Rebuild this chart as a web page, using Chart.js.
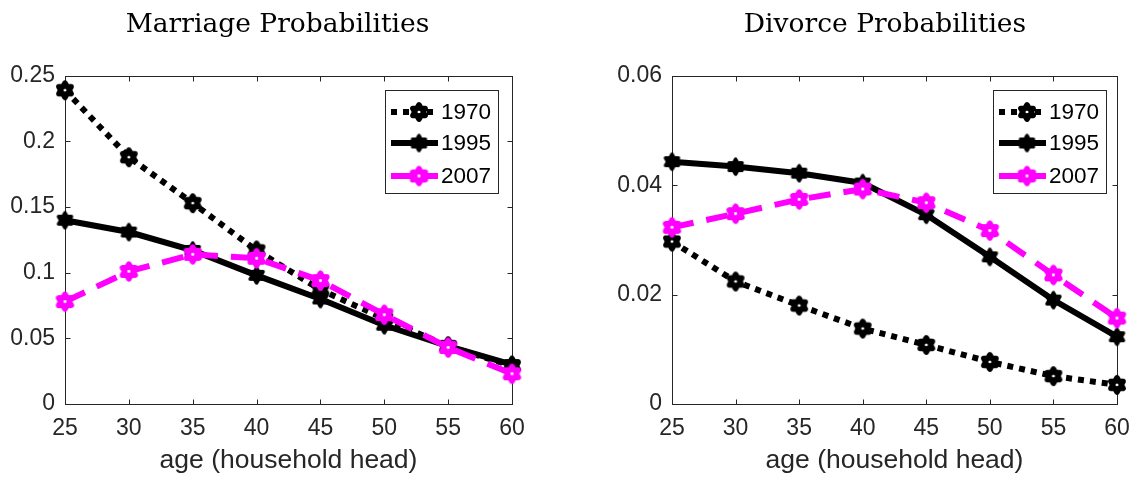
<!DOCTYPE html>
<html><head><meta charset="utf-8">
<script src="https://cdn.jsdelivr.net/npm/chart.js@4.4.0/dist/chart.umd.min.js"></script>
<style>
html,body{margin:0;padding:0;background:#fff;overflow:hidden}
#wrap{position:relative;width:1133px;height:477px;background:#fff;overflow:hidden}
canvas{position:absolute;top:0}
</style></head><body>
<div id="wrap">
<canvas id="c1" width="566" height="477" style="left:0px"></canvas>
<canvas id="c2" width="700" height="477" style="left:566px"></canvas>
</div>
<script>
// ---- data ----
const ages = [25, 30, 35, 40, 45, 50, 55, 60];
const ageTicks = [25, 30, 35, 40, 45, 50, 55, 60];
const seriesLabels = ['1970', '1995', '2007'];
const marriage1970 = [0.239, 0.188, 0.153, 0.117, 0.087, 0.065, 0.044, 0.029];
const marriage1995 = [0.140, 0.131, 0.117, 0.098, 0.080, 0.060, 0.044, 0.030];
const marriage2007 = [0.078, 0.101, 0.114, 0.111, 0.094, 0.068, 0.043, 0.023];
const divorce1970 = [0.0297, 0.0224, 0.0180, 0.0138, 0.0108, 0.0077, 0.0051, 0.0035];
const divorce1995 = [0.0443, 0.0434, 0.0422, 0.0404, 0.0346, 0.0269, 0.0190, 0.0123];
const divorce2007 = [0.0323, 0.0348, 0.0374, 0.0393, 0.0368, 0.0317, 0.0236, 0.0157];
const marriageYTicks = [0, 0.05, 0.1, 0.15, 0.2, 0.25];
const divorceYTicks = [0, 0.02, 0.04, 0.06];
const marriageTitle = 'Marriage Probabilities';
const divorceTitle = 'Divorce Probabilities';
const xLabel = 'age (household head)';

// ---- markers ----
function hexagram(fill, stroke, R, lw) {
  const pad = Math.ceil(lw) + 2;
  const size = Math.ceil(2 * R + 2 * pad);
  const c = document.createElement('canvas');
  c.width = size; c.height = size;
  const g = c.getContext('2d');
  const cx = size / 2, cy = size / 2, r = R / Math.sqrt(3);
  g.beginPath();
  for (let i = 0; i < 12; i++) {
    const a = -Math.PI / 2 + i * Math.PI / 6;
    const rr = i % 2 === 0 ? R : r;
    const px = cx + rr * Math.cos(a), py = cy + rr * Math.sin(a);
    if (i === 0) g.moveTo(px, py); else g.lineTo(px, py);
  }
  g.closePath();
  g.fillStyle = fill; g.fill();
  g.lineJoin = 'round'; g.lineWidth = lw; g.strokeStyle = stroke; g.stroke();
  return c;
}
const mk1970 = hexagram('#ffffff', '#000000', 7, 5.6);
const mk1995 = hexagram('#000000', '#000000', 7.5, 3.5);
const mk2007 = hexagram('#ffffff', '#ff00ff', 7.3, 5.6);

// ---- plugins ----
function boxPlugin() {
  return {
    id: 'box',
    beforeDatasetsDraw(chart) {
      const {ctx, chartArea: a, scales: {x, y}} = chart;
      const L = Math.round(a.left) + 0.5, R = Math.round(a.right) + 0.5;
      const T = Math.round(a.top) + 0.5, B = Math.round(a.bottom) + 0.5;
      ctx.save();
      ctx.strokeStyle = '#262626'; ctx.lineWidth = 1;
      ctx.strokeRect(L, T, R - L, B - T);
      ctx.beginPath();
      x.ticks.forEach(t => {
        const px = Math.round(x.getPixelForValue(t.value)) + 0.5;
        ctx.moveTo(px, B); ctx.lineTo(px, B - 5);
        ctx.moveTo(px, T); ctx.lineTo(px, T + 5);
      });
      y.ticks.forEach(t => {
        const py = Math.round(y.getPixelForValue(t.value)) + 0.5;
        ctx.moveTo(L, py); ctx.lineTo(L + 5, py);
        ctx.moveTo(R, py); ctx.lineTo(R - 5, py);
      });
      ctx.stroke();
      ctx.restore();
    }
  };
}
function legendPlugin(insetRight, insetTop) {
  return {
    id: 'mlegend',
    afterDraw(chart) {
      const {ctx, chartArea: a} = chart;
      const w = 113, h = 103;
      const L = Math.round(a.right - insetRight - w), T = Math.round(a.top + insetTop);
      ctx.save();
      ctx.fillStyle = '#fff'; ctx.fillRect(L, T, w, h);
      ctx.strokeStyle = '#262626'; ctx.lineWidth = 1;
      ctx.strokeRect(L + 0.5, T + 0.5, w, h);
      const rowY = [22, 53, 86];
      const byLabel = {};
      chart.data.datasets.forEach(ds => byLabel[ds.label] = ds);
      seriesLabels.forEach((lab, k) => {
        const ds = byLabel[lab];
        const cy = T + rowY[k];
        ctx.save();
        ctx.strokeStyle = ds.borderColor; ctx.lineWidth = ds.borderWidth;
        ctx.setLineDash(ds.borderDash || []);
        ctx.beginPath(); ctx.moveTo(L + 6, cy); ctx.lineTo(L + 53, cy); ctx.stroke();
        ctx.restore();
        const img = ds.pointStyle;
        ctx.drawImage(img, L + 34 - img.width / 2, cy - img.height / 2);
        ctx.fillStyle = '#000';
        ctx.font = '22.5px "Liberation Sans", Arial, sans-serif';
        ctx.textBaseline = 'middle'; ctx.textAlign = 'left';
        ctx.fillText(ds.label, L + 56, cy + 1);
      });
      ctx.restore();
    }
  };
}

function pts(arr) { return ages.map((a, i) => ({x: a, y: arr[i]})); }

function makeChart(id, title, s70, s95, s07, yTicks, yMax, yWidth, padRight, spacerWidth, legInsetRight) {
  const tickFont = {family: '"Liberation Sans", Arial, sans-serif', size: 23};
  return new Chart(document.getElementById(id), {
    type: 'line',
    data: {
      datasets: [
        {label: seriesLabels[0], data: pts(s70), borderColor: '#000000', borderWidth: 6, borderDash: [6, 6],
         borderCapStyle: 'butt', pointStyle: mk1970, pointRadius: 9, order: 2, clip: false, tension: 0},
        {label: seriesLabels[1], data: pts(s95), borderColor: '#000000', borderWidth: 6, borderDash: [],
         pointStyle: mk1995, pointRadius: 9, order: 1, clip: false, tension: 0},
        {label: seriesLabels[2], data: pts(s07), borderColor: '#ff00ff', borderWidth: 6, borderDash: [22, 13],
         borderCapStyle: 'butt', pointStyle: mk2007, pointRadius: 9, order: 0, clip: false, tension: 0}
      ]
    },
    options: {
      responsive: false, animation: false, devicePixelRatio: 1,
      events: [],
      layout: {padding: {left: 0, right: padRight, top: 0, bottom: 0}},
      plugins: {
        legend: {display: false},
        tooltip: {enabled: false},
        title: {display: true, text: title, color: '#000',
                font: {family: '"DejaVu Serif", serif', size: 26.5, weight: 'normal'},
                padding: {top: 9, bottom: 35}}
      },
      scales: {
        x: {
          type: 'linear', min: 25, max: 60,
          afterBuildTicks: s => { s.ticks = ageTicks.map(v => ({value: v})); },
          afterFit: s => { s.height = 73; },
          grid: {display: false, drawTicks: false}, border: {display: false},
          ticks: {font: tickFont, color: '#262626', padding: 11, maxRotation: 0, autoSkip: false,
                  callback: v => String(v)},
          title: {display: true, text: xLabel, color: '#262626',
                  font: {family: '"Liberation Sans", Arial, sans-serif', size: 26.5}, padding: {top: 0, bottom: 0}}
        },
        y: {
          type: 'linear', min: 0, max: yMax,
          afterBuildTicks: s => { s.ticks = yTicks.map(v => ({value: v})); },
          afterFit: s => { s.width = yWidth; },
          grid: {display: false, drawTicks: false}, border: {display: false},
          ticks: {font: tickFont, color: '#262626', padding: 10, autoSkip: false,
                  callback: v => String(v)}
        },
        spacer: {
          type: 'linear', position: 'right', display: true,
          afterFit: s => { s.width = spacerWidth; },
          ticks: {display: false}, grid: {display: false, drawTicks: false}, border: {display: false}
        }
      }
    },
    plugins: [boxPlugin(), legendPlugin(legInsetRight, 14)]
  });
}

makeChart('c1', marriageTitle, marriage1970, marriage1995, marriage2007, marriageYTicks, 0.25, 65, 11, 43, 14);
makeChart('c2', divorceTitle, divorce1970, divorce1995, divorce2007, divorceYTicks, 0.06, 106, 62, 87, 11);
</script>
</body></html>
